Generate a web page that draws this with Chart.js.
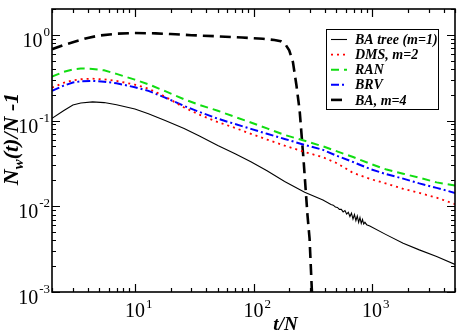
<!DOCTYPE html>
<html>
<head>
<meta charset="utf-8">
<script src="https://cdn.jsdelivr.net/npm/chart.js@4/dist/chart.umd.min.js"></script>
<style>
  body { margin: 0; background: #fff; }
  #wrap { width: 458px; height: 332px; }
</style>
</head>
<body>
<div id="wrap"><canvas id="canvas" width="458" height="332"></canvas></div>
<script>
// t/N values shared by DMS, RAN and BRV
var tCommon = [2, 2.5, 3, 3.5, 4.4, 5.5, 7, 10, 13, 18, 26, 35, 50, 70, 95, 130, 183, 270, 385, 500, 692, 956, 1300, 1828, 2500, 3500, 5000];
var yDms = [0.242, 0.275, 0.295, 0.303, 0.308, 0.302, 0.29, 0.262, 0.236, 0.19, 0.142, 0.117, 0.096, 0.082, 0.07, 0.06, 0.051, 0.043, 0.0373, 0.032, 0.0245, 0.0209, 0.0185, 0.016, 0.0143, 0.0126, 0.0106];
var yRan = [0.325, 0.37, 0.395, 0.405, 0.40, 0.385, 0.35, 0.30, 0.265, 0.22, 0.177, 0.152, 0.13, 0.11, 0.095, 0.081, 0.068, 0.058, 0.05, 0.044, 0.0375, 0.0315, 0.027, 0.024, 0.0215, 0.019, 0.0175];
var yBrv = [0.222, 0.255, 0.278, 0.286, 0.29, 0.284, 0.272, 0.245, 0.222, 0.185, 0.148, 0.126, 0.105, 0.091, 0.08, 0.07, 0.061, 0.052, 0.0455, 0.039, 0.0328, 0.0273, 0.0238, 0.021, 0.0185, 0.0164, 0.0143];

// BA tree (m=1), noisy around t/N ~ 500-900
var tBaTree = [2, 2.5, 3, 3.5, 4.4, 5.5, 7, 10, 13, 18, 26, 35, 50, 70, 95, 130, 183, 270, 385, 450, 470, 490, 510, 530, 550, 570, 590, 610, 630, 650, 670, 690, 710, 730, 750, 770, 790, 810, 830, 850, 870, 900, 956, 1300, 1828, 2500, 3500, 5000];
var yBaTree = [0.106, 0.13, 0.152, 0.16, 0.165, 0.162, 0.153, 0.136, 0.12, 0.10, 0.081, 0.066, 0.051, 0.041, 0.033, 0.026, 0.0195, 0.0146, 0.0118, 0.0105, 0.0103, 0.0098, 0.0097, 0.0092, 0.0092, 0.0086, 0.0089, 0.0081, 0.0085, 0.0076, 0.0083, 0.0071, 0.0080, 0.0068, 0.0077, 0.0065, 0.0074, 0.0063, 0.0070, 0.0062, 0.0065, 0.0061, 0.0059, 0.0047, 0.0037, 0.0031, 0.0026, 0.0021];

// BA, m=4
var tBa4 = [2, 2.5, 3, 4, 5, 7, 10, 15, 20, 30, 50, 80, 120, 150, 170, 185, 200, 215, 230, 245, 255, 265, 275, 285, 297, 310, 320];
var yBa4 = [0.68, 0.76, 0.82, 0.92, 0.98, 1.03, 1.05, 1.04, 1.02, 0.99, 0.96, 0.93, 0.90, 0.87, 0.84, 0.78, 0.66, 0.48, 0.26, 0.13, 0.065, 0.033, 0.016, 0.008, 0.0042, 0.0011, 0.0005];

var xTicks = [1, 2, 3];          // exponents labelled on x
var yTicks = [0, -1, -2, -3];    // exponents labelled on y

function pts(t, y) {
  return t.map(function(v, i) { return { x: v, y: y[i] }; });
}

var serif = '"Liberation Serif", "DejaVu Serif", serif';

var frame = {
  id: 'frame',
  afterDatasetsDraw: function(chart) {
    var ctx = chart.ctx;
    var a = chart.chartArea;
    var xs = chart.scales.x, ys = chart.scales.y;
    ctx.save();
    ctx.strokeStyle = '#000';
    ctx.fillStyle = '#000';

    // ticks, pointing inward on all four sides
    ctx.lineWidth = 1.2;
    ctx.beginPath();
    for (var e = 0; e <= 4; e++) {
      for (var m = 1; m <= 9; m++) {
        var v = m * Math.pow(10, e);
        if (v < xs.min || v > xs.max) continue;
        var px = Math.round(xs.getPixelForValue(v)) + 0.5;
        var len = m === 1 ? 8 : 4;
        ctx.moveTo(px, a.bottom); ctx.lineTo(px, a.bottom - len);
        ctx.moveTo(px, a.top); ctx.lineTo(px, a.top + len);
      }
    }
    for (var e2 = -3; e2 <= 0; e2++) {
      for (var m2 = 1; m2 <= 9; m2++) {
        var v2 = m2 * Math.pow(10, e2);
        if (v2 < ys.min || v2 > ys.max) continue;
        var py = Math.round(ys.getPixelForValue(v2)) + 0.5;
        var len2 = m2 === 1 ? 8 : 4;
        ctx.moveTo(a.left, py); ctx.lineTo(a.left + len2, py);
        ctx.moveTo(a.right, py); ctx.lineTo(a.right - len2, py);
      }
    }
    ctx.stroke();

    ctx.lineWidth = 1.6;
    ctx.strokeRect(a.left, a.top, a.right - a.left, a.bottom - a.top);

    // tick labels 10^n
    ctx.textBaseline = 'alphabetic';
    xTicks.forEach(function(p) {
      var px = xs.getPixelForValue(Math.pow(10, p));
      ctx.font = '20px ' + serif;
      var w = ctx.measureText('10').width;
      ctx.textAlign = 'left';
      ctx.fillText('10', px - w / 2, 317);
      ctx.font = '13px ' + serif;
      ctx.fillText(String(p), px + w / 2 + 1, 308);
    });
    yTicks.forEach(function(p) {
      var py = ys.getPixelForValue(Math.pow(10, p));
      var sup = p < 0 ? '-' + (-p) : String(p);
      ctx.font = '13px ' + serif;
      var ws = ctx.measureText(sup).width;
      ctx.font = '20px ' + serif;
      var w = ctx.measureText('10').width;
      ctx.textAlign = 'left';
      var x0 = 50 - ws - w - 1;
      ctx.fillText('10', x0, py + 12);
      ctx.font = '13px ' + serif;
      ctx.fillText(sup, x0 + w + 1, py + 1);
    });

    // axis titles
    ctx.font = 'italic bold 19px ' + serif;
    ctx.textAlign = 'center';
    ctx.fillText('t/N', 285.5, 330);

    ctx.save();
    ctx.translate(18, 139);
    ctx.rotate(-Math.PI / 2);
    var big = 'italic bold 22px ' + serif, small = 'italic bold 15px ' + serif;
    ctx.font = big; var w1 = ctx.measureText('N').width;
    ctx.font = small; var w2 = ctx.measureText('w').width;
    ctx.font = big; var w3 = ctx.measureText('(t)/N -1').width;
    var x = -(w1 + w2 + w3) / 2;
    ctx.textAlign = 'left';
    ctx.font = big; ctx.fillText('N', x, 0);
    ctx.font = small; ctx.fillText('w', x + w1, 5);
    ctx.font = big; ctx.fillText('(t)/N -1', x + w1 + w2, 0);
    ctx.restore();

    // legend
    ctx.lineWidth = 1;
    ctx.strokeRect(326.5, 29.5, 112, 80);
    ctx.font = 'italic bold 14px ' + serif;
    ctx.textAlign = 'left';
    ctx.textBaseline = 'middle';
    chart.data.datasets.forEach(function(ds, i) {
      var ly = 39.5 + i * 15.1;
      ctx.save();
      ctx.strokeStyle = ds.borderColor;
      ctx.lineWidth = ds.borderWidth;
      ctx.setLineDash(ds.borderDash || []);
      ctx.beginPath();
      ctx.moveTo(331, ly); ctx.lineTo(347, ly);
      ctx.stroke();
      ctx.restore();
      ctx.fillText(ds.label, 355, ly + 1);
    });
    ctx.restore();
  }
};

new Chart(document.getElementById('canvas'), {
  type: 'line',
  data: {
    datasets: [
      { label: 'BA tree (m=1)', data: pts(tBaTree, yBaTree), borderColor: '#000', borderWidth: 1.1, borderDash: [] },
      { label: 'DMS, m=2', data: pts(tCommon, yDms), borderColor: '#ff0000', borderWidth: 1.8, borderDash: [2, 4] },
      { label: 'RAN', data: pts(tCommon, yRan), borderColor: '#11dd11', borderWidth: 2, borderDash: [8, 5] },
      { label: 'BRV', data: pts(tCommon, yBrv), borderColor: '#0000ff', borderWidth: 2, borderDash: [8, 3, 2, 3] },
      { label: 'BA, m=4', data: pts(tBa4, yBa4), borderColor: '#000', borderWidth: 2.6, borderDash: [11, 6] }
    ]
  },
  options: {
    responsive: false,
    animation: false,
    layout: { padding: { left: 52, right: 3, top: 9, bottom: 40 } },
    elements: {
      point: { radius: 0 },
      line: { tension: 0, fill: false, borderCapStyle: 'butt' }
    },
    scales: {
      x: { type: 'logarithmic', min: 2, max: 5000, display: false },
      y: { type: 'logarithmic', min: 0.001, max: 2, display: false }
    },
    plugins: {
      legend: { display: false },
      tooltip: { enabled: false }
    }
  },
  plugins: [frame]
});
</script>
</body>
</html>
